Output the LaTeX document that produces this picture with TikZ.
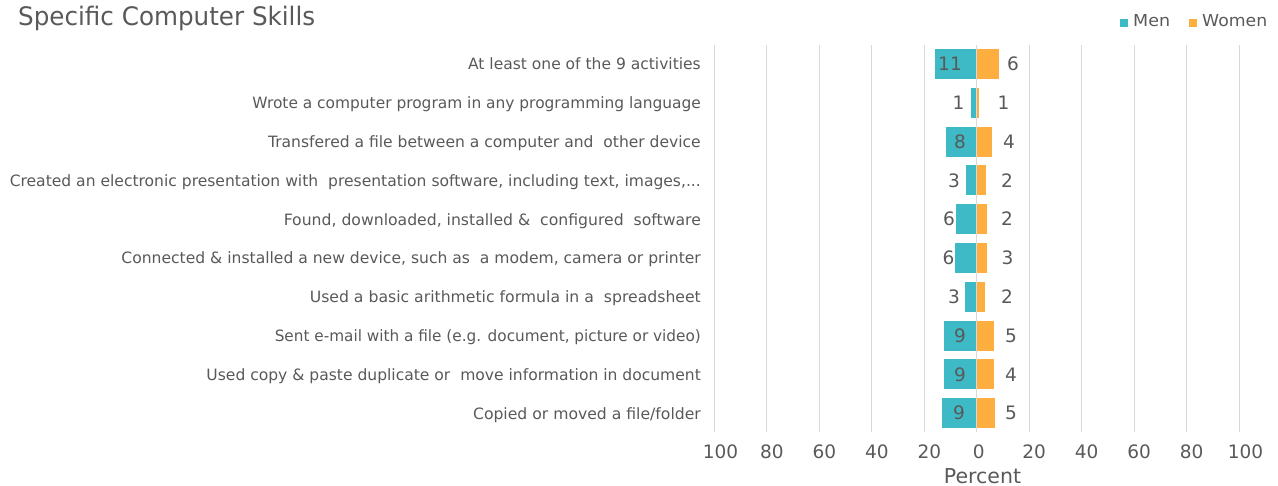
\documentclass[tikz,border=0pt]{standalone}
\usepackage{fontspec}
\setmainfont{DejaVu Sans}
\usepackage{graphicx}
\definecolor{hommes}{HTML}{3DBAC6}
\definecolor{femmes}{HTML}{FDAE3F}
\definecolor{texte}{HTML}{595959}
\definecolor{grille}{HTML}{D9D9D9}

\tikzset{
  categorie/.style={anchor=base east, inner sep=0pt, text=texte, font=\fontsize{15.6}{18}\selectfont},
  valeur/.style={anchor=base, inner sep=0pt, text=texte, font=\fontsize{18.5}{22}\selectfont},
  graduation/.style={anchor=base, inner sep=0pt, text=texte, font=\fontsize{18.5}{22}\selectfont},
  legende/.style={anchor=base west, inner sep=0pt, text=texte, font=\fontsize{16.5}{20}\selectfont}
}

\begin{document}
\begin{tikzpicture}[x=1pt, y=-1pt]
\useasboundingbox (0,0) rectangle (1278,486);

% Titre
\node[anchor=base west, inner sep=0pt, text=texte, font=\fontsize{25.5}{30}\selectfont] (titre) at (18,25.5) {\resizebox{297pt}{\height}{Specific Computer Skills}};

% Légende
\fill[hommes] (1119.5,19.5) rectangle (1127.5,27.5);
\node[legende] (men) at (1133,26.7) {\resizebox{37pt}{\height}{Men}};
\fill[femmes] (1189,19.5) rectangle (1197,27.5);
\node[legende] (women) at (1202,26.7) {\resizebox{65pt}{\height}{Women}};

% Grille verticale
\draw[grille, line width=1pt] (714.5,45) -- (714.5,432) (766.5,45) -- (766.5,432)
  (819.5,45) -- (819.5,432) (871.5,45) -- (871.5,432) (924.5,45) -- (924.5,432)
  (1029.5,45) -- (1029.5,432) (1081.5,45) -- (1081.5,432) (1134.5,45) -- (1134.5,432)
  (1186.5,45) -- (1186.5,432) (1239.5,45) -- (1239.5,432);

% Ligne 1
\fill[hommes] (935,49) rectangle (976.7,79);
\fill[femmes] (976.7,49) rectangle (999,79);
\node[categorie] (c1) at (701,70) {\resizebox{232.7pt}{\height}{At least one of the 9 activities}};
\node[valeur] (h1) at (950,70.7) {11};
\node[valeur] (f1) at (1013,70.7) {6};

% Ligne 2
\fill[hommes] (971,87.8) rectangle (976.7,117.8);
\fill[femmes] (976.7,87.8) rectangle (979,117.8);
\node[categorie] (c2) at (701,108.8) {\resizebox{448.3pt}{\height}{Wrote a computer program in any programming language}};
\node[valeur] (h2) at (958.5,109.5) {1};
\node[valeur] (f2) at (1003.5,109.5) {1};

% Ligne 3
\fill[hommes] (946,126.6) rectangle (976.7,156.6);
\fill[femmes] (976.7,126.6) rectangle (992,156.6);
\node[categorie] (c3) at (701,147.6) {\resizebox{432.7pt}{\height}{Transfered a file between a computer and\ \ other device}};
\node[valeur] (h3) at (960,148.3) {8};
\node[valeur] (f3) at (1009,148.3) {4};

% Ligne 4
\fill[hommes] (966,165.4) rectangle (976.7,195.4);
\fill[femmes] (976.7,165.4) rectangle (986,195.4);
\node[categorie] (c4) at (701,186.4) {\resizebox{691pt}{\height}{Created an electronic presentation with\ \ presentation software, including text, images,...}};
\node[valeur] (h4) at (954,187.1) {3};
\node[valeur] (f4) at (1007,187.1) {2};

% Ligne 5
\fill[hommes] (956,204.2) rectangle (976.7,234.2);
\fill[femmes] (976.7,204.2) rectangle (987,234.2);
\node[categorie] (c5) at (701,225.2) {\resizebox{417pt}{\height}{Found, downloaded, installed \&\ \ configured\ \ software}};
\node[valeur] (h5) at (949,225.9) {6};
\node[valeur] (f5) at (1007,225.9) {2};

% Ligne 6
\fill[hommes] (955,243) rectangle (976.7,273);
\fill[femmes] (976.7,243) rectangle (987,273);
\node[categorie] (c6) at (701,264) {\resizebox{579.3pt}{\height}{Connected \& installed a new device, such as\ \ a modem, camera or printer}};
\node[valeur] (h6) at (948.5,264.7) {6};
\node[valeur] (f6) at (1007.5,264.7) {3};

% Ligne 7
\fill[hommes] (965,281.8) rectangle (976.7,311.8);
\fill[femmes] (976.7,281.8) rectangle (985,311.8);
\node[categorie] (c7) at (701,302.8) {\resizebox{391pt}{\height}{Used a basic arithmetic formula in a\ \ spreadsheet}};
\node[valeur] (h7) at (954,303.5) {3};
\node[valeur] (f7) at (1007,303.5) {2};

% Ligne 8
\fill[hommes] (944,320.6) rectangle (976.7,350.6);
\fill[femmes] (976.7,320.6) rectangle (994,350.6);
\node[categorie] (c8) at (701,341.6) {\resizebox{426pt}{\height}{Sent e-mail with a file (e.g. document, picture or video)}};
\node[valeur] (h8) at (960,342.3) {9};
\node[valeur] (f8) at (1011,342.3) {5};

% Ligne 9
\fill[hommes] (944,359.4) rectangle (976.7,389.4);
\fill[femmes] (976.7,359.4) rectangle (994,389.4);
\node[categorie] (c9) at (701,380.4) {\resizebox{494.3pt}{\height}{Used copy \& paste duplicate or\ \ move information in document}};
\node[valeur] (h9) at (960,381.1) {9};
\node[valeur] (f9) at (1011,381.1) {4};

% Ligne 10
\fill[hommes] (942,398.2) rectangle (976.7,428.2);
\fill[femmes] (976.7,398.2) rectangle (995,428.2);
\node[categorie] (c10) at (701,419.2) {\resizebox{227.7pt}{\height}{Copied or moved a file/folder}};
\node[valeur] (h10) at (959,419.9) {9};
\node[valeur] (f10) at (1011,419.9) {5};

% Axe vertical (zéro)
\draw[grille, line width=1pt] (976.7,45) -- (976.7,432);

% Graduations
\node[graduation] (g1) at (720.4,458.3) {100};
\node[graduation] (g2) at (771.9,458.3) {80};
\node[graduation] (g3) at (824.4,458.3) {60};
\node[graduation] (g4) at (876.9,458.3) {40};
\node[graduation] (g5) at (929.3,458.3) {20};
\node[graduation] (g6) at (978.7,458.3) {0};
\node[graduation] (g7) at (1034.2,458.3) {20};
\node[graduation] (g8) at (1086.6,458.3) {40};
\node[graduation] (g9) at (1139.1,458.3) {60};
\node[graduation] (g10) at (1191.6,458.3) {80};
\node[graduation] (g11) at (1245.5,458.3) {100};

% Titre de l'axe
\node[anchor=base, inner sep=0pt, text=texte, font=\fontsize{20.5}{24}\selectfont] (percent) at (982.5,483.3) {Percent};

\end{tikzpicture}
\end{document}
